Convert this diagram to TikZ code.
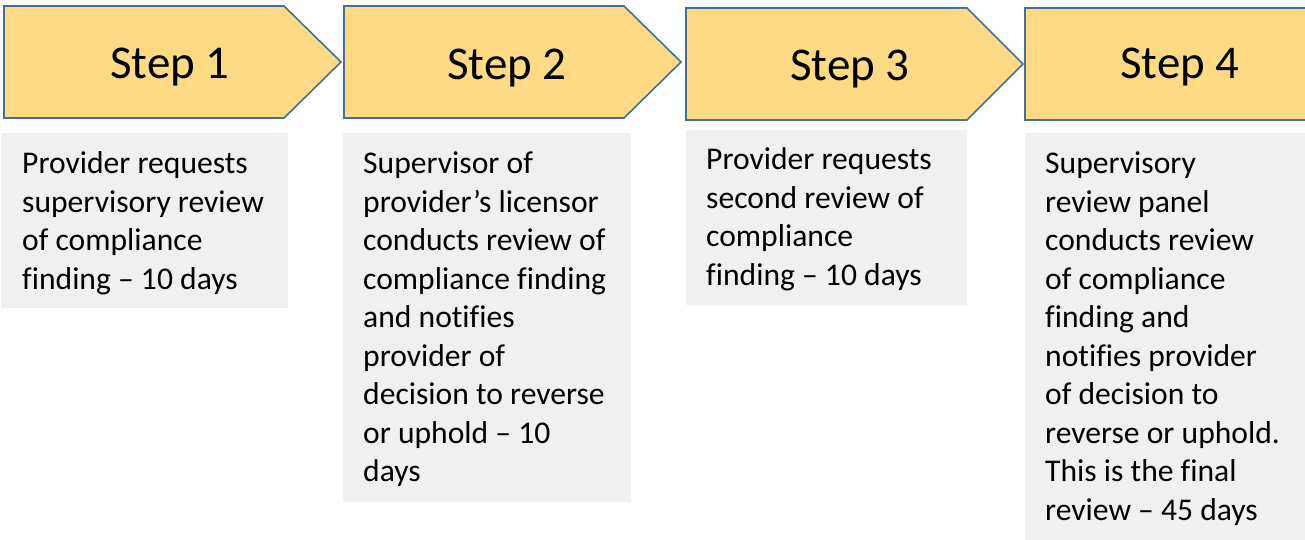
\documentclass[tikz,border=0pt]{standalone}
\usepackage{fontspec}
\setmainfont{Carlito}[Ligatures=NoCommon]
\definecolor{stepfill}{HTML}{FDDA83}
\definecolor{stepline}{HTML}{41719C}
\definecolor{boxgray}{HTML}{F0F0F0}
\tikzset{
  chevron/.style={fill=stepfill, draw=stepline, line width=1.6pt, line join=miter},
  graybox/.style={fill=boxgray, draw=none},
  steplabel/.style={font=\fontsize{47}{56}\selectfont, anchor=base, inner sep=0pt},
  bodytext/.style={font=\fontsize{31.6}{38.5}\selectfont, anchor=north west, align=left, inner sep=0pt}
}
\begin{document}
\begin{tikzpicture}[x=1pt,y=-1pt]
\useasboundingbox (0,0) rectangle (1305,539);
\begin{scope}
\clip (0,0) rectangle (1305,539);
% chevrons
\draw[chevron] (4,6) -- (284,6) -- (341,62) -- (284,118) -- (4,118) -- cycle;
\draw[chevron] (344,6) -- (624,6) -- (681,62) -- (624,118) -- (344,118) -- cycle;
\draw[chevron] (686,8) -- (967,8) -- (1023,64) -- (967,120) -- (686,120) -- cycle;
\draw[chevron] (1025,8) -- (1320,8) -- (1320,120) -- (1025,120) -- cycle;
% gray boxes
\fill[graybox] (1,133) rectangle (288,308);
\fill[graybox] (343,133) rectangle (631,502);
\fill[graybox] (686,130) rectangle (967,305);
\fill[graybox] (1025,133) rectangle (1310,545);
\end{scope}
% step labels
\node[steplabel] (s1) at (170,78) {Step 1};
\node[steplabel] (s2) at (507,79) {Step 2};
\node[steplabel] (s3) at (850,80) {Step 3};
\node[steplabel] (s4) at (1180,78) {Step 4};
% texts (top = baseline - 0.7*38.5)
\node[bodytext] (t1) at (22,146.6) {\strut Provider requests\\supervisory review\\of compliance\\finding – 10 days};
\node[bodytext] (t2) at (363,146.6) {\strut Supervisor of\\provider’s licensor\\conducts review of\\compliance finding\\and notifies\\provider of\\decision to reverse\\or uphold – 10\\days};
\node[bodytext] (t3) at (706,142.6) {\strut Provider requests\\second review of\\compliance\\finding – 10 days};
\node[bodytext] (t4) at (1045,146.6) {\strut Supervisory\\review panel\\conducts review\\of compliance\\finding and\\notifies provider\\of decision to\\reverse or uphold.\\This is the final\\review – 45 days};
\end{tikzpicture}
\end{document}
